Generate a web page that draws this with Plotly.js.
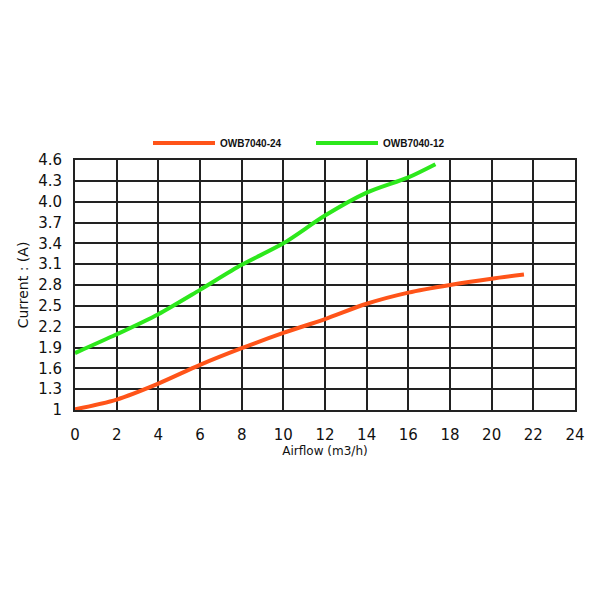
<!DOCTYPE html>
<html>
<head>
<meta charset="utf-8">
<script src="https://cdn.plot.ly/plotly-3.0.1.min.js"></script>
<style>html,body{margin:0;padding:0;background:#fff;}#chart{width:600px;height:600px;}</style>
</head>
<body>
<div id="chart"></div>
<script>
// Series names
const seriesNames = ["OWB7040-24", "OWB7040-12"];
// Airflow (m3/h)
const airflow24 = [0, 2, 4, 6, 8, 10, 12, 14, 16, 18, 20, 21.55];
const current24 = [1.01, 1.15, 1.38, 1.65, 1.89, 2.11, 2.31, 2.53, 2.69, 2.80, 2.89, 2.95];
const airflow12 = [0, 2, 4, 6, 8, 10, 12, 14, 16, 17.3];
const current12 = [1.82, 2.09, 2.38, 2.73, 3.09, 3.40, 3.80, 4.13, 4.35, 4.54];
// Tick labels
const xTicks = [0, 2, 4, 6, 8, 10, 12, 14, 16, 18, 20, 22, 24];
const yTicks = [1, 1.3, 1.6, 1.9, 2.2, 2.5, 2.8, 3.1, 3.4, 3.7, 4.0, 4.3, 4.6];
const yTickText = ["1", "1.3", "1.6", "1.9", "2.2", "2.5", "2.8", "3.1", "3.4", "3.7", "4.0", "4.3", "4.6"];

const traces = [
  {x: airflow24, y: current24, name: seriesNames[0], type: "scatter", mode: "lines",
   line: {color: "#ff5419", width: 4, shape: "spline", smoothing: 0.8}},
  {x: airflow12, y: current12, name: seriesNames[1], type: "scatter", mode: "lines",
   line: {color: "#2de81c", width: 4, shape: "spline", smoothing: 0.8}}
];

const layout = {
  width: 600, height: 600,
  paper_bgcolor: "#fff", plot_bgcolor: "#fff",
  margin: {l: 75, r: 25, t: 160, b: 190},
  font: {family: "DejaVu Sans, sans-serif", color: "#111"},
  showlegend: true,
  legend: {orientation: "h", x: 0.146, xanchor: "left", y: 1.068, yanchor: "middle",
           font: {size: 10, family: "Liberation Sans, Arial, sans-serif", color: "#111", weight: "bold"},
           itemwidth: 62, entrywidth: 86, bgcolor: "rgba(0,0,0,0)"},
  xaxis: {range: [0, 24], tickvals: xTicks, ticktext: xTicks.map(String),
          showgrid: true, gridcolor: "#222", gridwidth: 2, zeroline: false,
          showline: true, linecolor: "#222", linewidth: 2, mirror: true,
          ticks: "", ticklabelstandoff: 10,
          tickfont: {size: 15, color: "#111"},
          title: {text: "Airflow (m3/h)", font: {size: 12, color: "#111"}, standoff: 4}},
  yaxis: {range: [1, 4.6], tickvals: yTicks, ticktext: yTickText,
          showgrid: true, gridcolor: "#222", gridwidth: 2, zeroline: false,
          showline: true, linecolor: "#222", linewidth: 2, mirror: true,
          ticks: "", ticklabelstandoff: 8,
          tickfont: {size: 15, color: "#111"},
          title: {text: "Current : (A)", font: {size: 14, color: "#111"}, standoff: 6}}
};

Plotly.newPlot("chart", traces, layout, {displayModeBar: false, staticPlot: true});
</script>
</body>
</html>
